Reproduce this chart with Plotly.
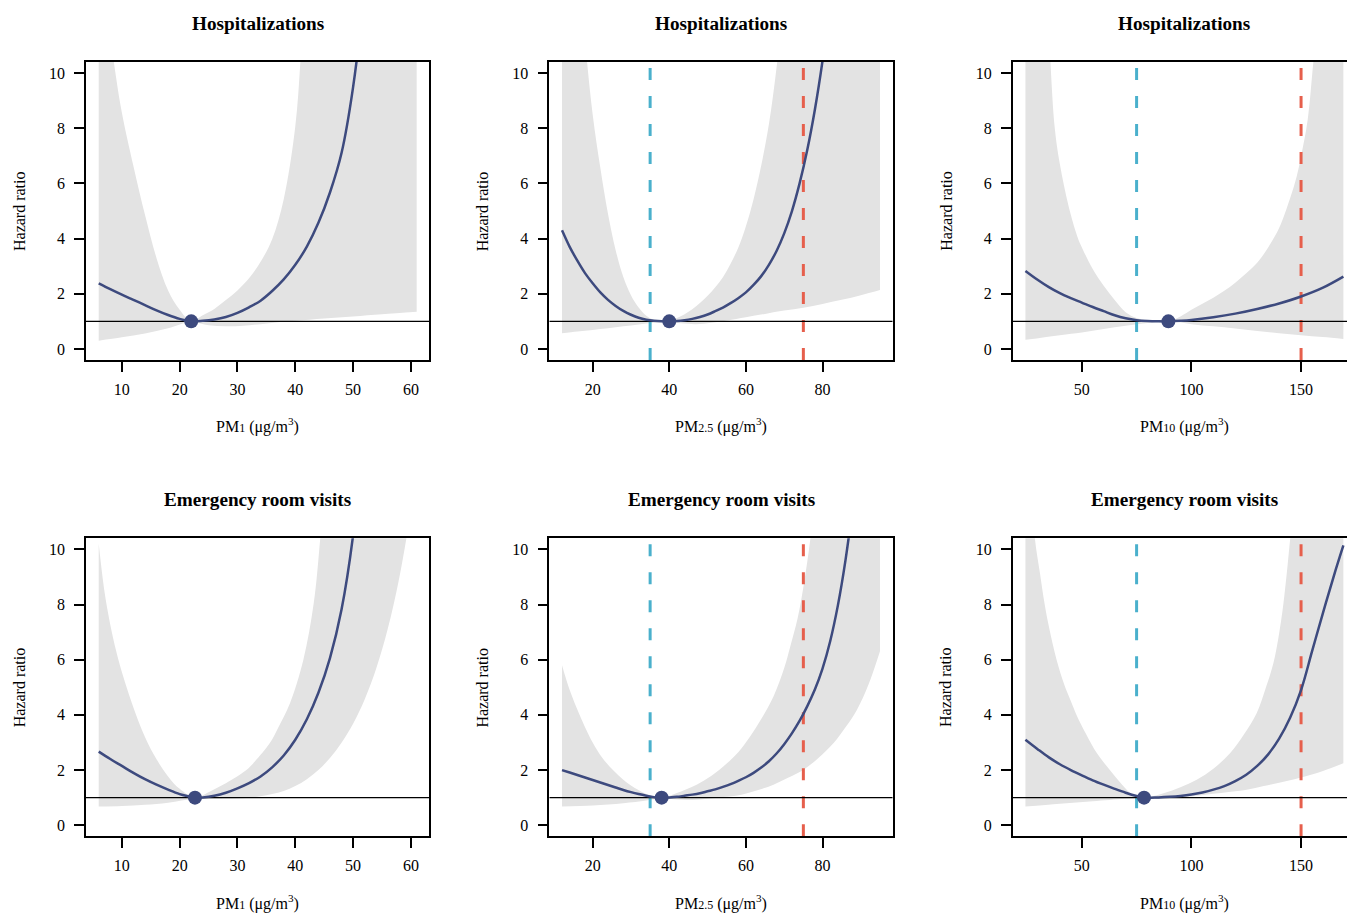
import plotly.graph_objects as go

FONT = "Liberation Serif"
NAVY = "#3D4A7E"
BAND = "#E3E3E3"
BLUE = "#4AB0CC"
RED = "#E65F4C"
W, H = 1347, 913

# ---------------- data ----------------
hr_ticks = [0, 2, 4, 6, 8, 10]
pm1_ticks = [10, 20, 30, 40, 50, 60]
pm25_ticks = [20, 40, 60, 80]
pm10_ticks = [50, 100, 150]
pm25_limits = [35, 75]
pm10_limits = [75, 150]

# Hospitalizations - PM1
hosp_pm1_x = [6, 8, 10, 12, 14, 16, 18, 20, 22, 24, 26, 28, 30, 32, 34, 36, 38, 40, 42, 44, 46, 48, 50, 52, 55]
hosp_pm1_hr = [2.38, 2.17, 1.97, 1.78, 1.59, 1.40, 1.23, 1.09, 1.0, 1.02, 1.07, 1.16, 1.31, 1.51, 1.75, 2.10, 2.52, 3.05, 3.71, 4.57, 5.67, 7.10, 9.49, 13.1, 21]
hosp_pm1_up_x = [6, 7, 8, 9, 10, 12, 14, 16, 18, 20, 22, 24, 26, 28, 30, 32, 34, 36, 38, 40, 41, 42, 44, 50, 61]
hosp_pm1_up = [16, 13.5, 11.4, 9.85, 8.57, 6.63, 4.86, 3.29, 2.12, 1.42, 1.0, 1.22, 1.45, 1.77, 2.12, 2.56, 3.16, 3.98, 5.43, 8.06, 10.8, 14.5, 26, 60, 150]
hosp_pm1_lo_x = [6, 10, 14, 18, 22, 25, 28, 31, 34, 37, 40, 45, 50, 55, 61]
hosp_pm1_lo = [0.30, 0.42, 0.56, 0.75, 0.98, 0.86, 0.82, 0.84, 0.9, 0.97, 1.02, 1.1, 1.18, 1.26, 1.35]
hosp_pm1_ref = 22

# Hospitalizations - PM2.5
hosp_pm25_x = [12, 14, 16, 18, 20, 22, 24, 26, 28, 30, 32, 34, 36, 38, 40, 42, 44, 46, 48, 50, 52, 54, 56, 58,
               60, 62, 64, 66, 68, 70, 72, 74, 76, 78, 80, 82, 84, 86]
hosp_pm25_hr = [4.3, 3.7, 3.2, 2.75, 2.38, 2.05, 1.78, 1.56, 1.38, 1.24, 1.13, 1.06, 1.02, 1.0, 1.0, 1.01, 1.04, 1.09,
                1.16, 1.25, 1.37, 1.50, 1.66, 1.84, 2.05, 2.32, 2.64, 3.05, 3.55, 4.19, 4.99, 5.99, 7.20, 8.67, 10.44,
                12.58, 15.15, 18.2]
hosp_pm25_up_x = [12, 14, 16, 18, 20, 22, 24, 26, 28, 30, 32, 34, 36, 38, 40, 42, 44, 46, 48, 50, 52, 54, 56, 58, 60, 62, 64, 66, 68, 70, 72, 75, 80, 95]
hosp_pm25_up = [24.6, 19, 14.5, 11.2, 8.5, 6.57, 4.9, 3.58, 2.61, 1.95, 1.5, 1.2, 1.05, 1.0, 1.0, 1.12, 1.26, 1.44, 1.67, 1.93, 2.24, 2.6, 3.09, 3.67, 4.45, 5.43, 6.65, 8.14, 10.2, 12.8, 16, 23, 45, 250]
hosp_pm25_lo_x = [12, 16, 20, 24, 28, 32, 36, 40, 43, 47, 51, 55, 60, 65, 70, 75, 80, 85, 90, 95]
hosp_pm25_lo = [0.57, 0.63, 0.69, 0.75, 0.82, 0.89, 0.95, 0.99, 0.93, 0.9, 0.95, 1.03, 1.15, 1.27, 1.39, 1.49, 1.63, 1.78, 1.95, 2.14]
hosp_pm25_ref = 40

# Hospitalizations - PM10
hosp_pm10_x = [24.3, 30, 35, 40, 45, 50, 55, 60, 65, 70, 75, 80, 85, 89.5, 95, 100, 110, 120, 130, 140, 150, 160, 169.3]
hosp_pm10_hr = [2.83, 2.5, 2.24, 2.02, 1.84, 1.68, 1.52, 1.37, 1.22, 1.11, 1.04, 1.01, 1.0, 1.0, 1.02, 1.05, 1.15, 1.28, 1.45, 1.65, 1.9, 2.22, 2.62]
hosp_pm10_up_x = [24.3, 28, 32, 35.7, 37.7, 40, 44, 48, 50, 55, 60, 65, 70, 75, 80, 85, 89.5, 95, 100, 105, 110, 115, 120, 125, 130, 135, 140, 145, 148, 150, 153, 156, 160, 165, 169.3]
hosp_pm10_up = [47, 28, 16.8, 10.4, 8.0, 6.7, 5.17, 4.07, 3.69, 2.9, 2.29, 1.77, 1.33, 1.12, 1.03, 1.0, 1.0, 1.18, 1.42, 1.64, 1.86, 2.11, 2.4, 2.74, 3.12, 3.68, 4.38, 5.46, 6.25, 6.98, 8.3, 10.7, 13.3, 17.6, 22.6]
hosp_pm10_lo_x = [24.3, 40, 50, 60, 70, 80, 89.5, 100, 110, 120, 130, 140, 150, 160, 169.3]
hosp_pm10_lo = [0.33, 0.5, 0.6, 0.72, 0.84, 0.94, 1.0, 0.9, 0.82, 0.74, 0.65, 0.57, 0.5, 0.43, 0.36]
hosp_pm10_ref = 89.5

# Emergency room visits - PM1
er_pm1_x = [6, 8, 10, 12, 14, 16, 18, 20, 21.5, 22.65, 24, 26, 28, 30, 32, 34, 36, 38, 40, 42, 44, 46, 48, 50, 52]
er_pm1_hr = [2.67, 2.4, 2.15, 1.9, 1.67, 1.47, 1.29, 1.13, 1.05, 1.0, 1.01, 1.07, 1.18, 1.34, 1.53, 1.77, 2.10, 2.53, 3.10, 3.84, 4.80, 6.06, 7.82, 10.51, 14.8]
er_pm1_up_x = [6, 7, 8, 9, 10, 12, 14, 16, 18, 20, 22.65, 25, 27, 29, 31.6, 33, 35.6, 37, 39.1, 41.4, 43.2, 44.3, 45, 46, 48, 50, 55, 61]
er_pm1_up = [10.2, 8.46, 7.27, 6.33, 5.55, 4.27, 3.2, 2.39, 1.77, 1.32, 1.0, 1.2, 1.41, 1.65, 2.01, 2.31, 2.98, 3.52, 4.43, 6.0, 8.06, 10.36, 12.2, 15.3, 24, 38, 90, 250]
er_pm1_lo_x = [6, 10, 14, 18, 22.65, 26, 28, 30, 32, 34, 36, 38, 40, 42, 44, 46, 48, 50, 52, 54, 56, 58, 60, 61]
er_pm1_lo = [0.68, 0.7, 0.74, 0.82, 0.96, 0.95, 0.96, 0.97, 1.0, 1.05, 1.13, 1.24, 1.42, 1.67, 2.0, 2.44, 2.99, 3.68, 4.56, 5.68, 7.12, 8.98, 11.4, 12.8]
er_pm1_ref = 22.65

# Emergency room visits - PM2.5
er_pm25_x = [12, 14, 16, 18, 20, 22, 24, 26, 28, 30, 32, 34, 36, 38, 40, 42, 44, 46, 48, 50, 52, 54, 56, 58, 60,
             62, 64, 66, 68, 70, 72, 74, 76, 78, 80, 82, 84, 86, 88, 90]
er_pm25_hr = [2.0, 1.91, 1.82, 1.73, 1.64, 1.55, 1.46, 1.37, 1.28, 1.2, 1.13, 1.07, 1.02, 1.0, 1.01, 1.03, 1.07,
              1.11, 1.16, 1.23, 1.30, 1.39, 1.49, 1.61, 1.74, 1.90, 2.09, 2.32, 2.60, 2.94, 3.33, 3.78, 4.31, 4.92,
              5.68, 6.67, 7.96, 9.61, 11.7, 14.2]
er_pm25_up_x = [12, 14, 16.6, 20, 22.5, 25.3, 28, 31, 35, 38, 42, 46.3, 50, 54.1, 58, 61.1, 64, 67.2, 70, 71.6, 73.5, 75.05, 76.8, 78, 80, 85, 95]
er_pm25_up = [5.8, 4.9, 4.0, 3.0, 2.45, 2.0, 1.65, 1.35, 1.08, 1.0, 1.17, 1.41, 1.7, 2.13, 2.65, 3.22, 3.85, 4.67, 5.7, 6.49, 7.5, 8.67, 10.36, 12, 15, 25, 80]
er_pm25_lo_x = [12, 20, 28, 34, 38, 42, 46, 50, 54, 58.5, 63, 67.2, 71, 75.05, 79, 82.9, 86, 89, 92, 95]
er_pm25_lo = [0.68, 0.72, 0.8, 0.9, 0.98, 0.93, 0.92, 0.96, 1.02, 1.1, 1.27, 1.47, 1.72, 2.01, 2.45, 2.98, 3.55, 4.19, 5.1, 6.31]
er_pm25_ref = 38

# Emergency room visits - PM10
er_pm10_x = [24.3, 30, 35, 40, 45, 50, 55, 60, 65, 70, 75, 78.4, 85, 90, 95, 100, 105, 110, 115, 120, 125, 130,
             135, 140, 145, 150, 155, 160, 165, 169.3]
er_pm10_hr = [3.1, 2.75, 2.46, 2.21, 2.0, 1.81, 1.63, 1.47, 1.32, 1.18, 1.06, 1.0, 1.01, 1.03, 1.063, 1.115, 1.19,
              1.29, 1.42, 1.60, 1.83, 2.15, 2.57, 3.14, 3.90, 4.90, 6.3, 7.7, 9.05, 10.14]
er_pm10_up_x = [24.3, 26, 28.6, 31, 33.1, 35, 38.5, 42, 45, 47.6, 52, 57, 62.8, 68, 73.5, 78.4, 87.3, 95, 102.4, 110, 117.6, 124, 129.8, 134, 137.4, 140, 142, 145, 148, 155, 162, 169.3]
er_pm10_up = [15, 13, 10.4, 9.1, 8.0, 7.2, 6.0, 5.1, 4.5, 4.0, 3.3, 2.6, 2.0, 1.5, 1.08, 1.0, 1.16, 1.38, 1.65, 2.05, 2.61, 3.3, 4.07, 5.0, 5.88, 6.95, 8.06, 10.36, 13, 22, 35, 55]
er_pm10_lo_x = [24.3, 40, 55, 70, 78.4, 87, 95, 102.4, 110, 117, 125.2, 133, 141, 149.1, 160, 169.3]
er_pm10_lo = [0.68, 0.78, 0.87, 0.96, 0.99, 0.98, 1.01, 1.07, 1.14, 1.21, 1.29, 1.42, 1.56, 1.71, 1.97, 2.25]
er_pm10_ref = 78.4

titles = ["Hospitalizations", "Emergency room visits"]
xlabels = ["PM<span style=\"font-size:12px\">1</span> (μg/m<sup>3</sup>)",
           "PM<span style=\"font-size:12px\">2.5</span> (μg/m<sup>3</sup>)",
           "PM<span style=\"font-size:12px\">10</span> (μg/m<sup>3</sup>)"]
ylabel = "Hazard ratio"

panels = [
    (0, 0, hosp_pm1_x, hosp_pm1_hr, hosp_pm1_up_x, hosp_pm1_up, hosp_pm1_lo_x, hosp_pm1_lo, hosp_pm1_ref, pm1_ticks, []),
    (0, 1, hosp_pm25_x, hosp_pm25_hr, hosp_pm25_up_x, hosp_pm25_up, hosp_pm25_lo_x, hosp_pm25_lo, hosp_pm25_ref, pm25_ticks, pm25_limits),
    (0, 2, hosp_pm10_x, hosp_pm10_hr, hosp_pm10_up_x, hosp_pm10_up, hosp_pm10_lo_x, hosp_pm10_lo, hosp_pm10_ref, pm10_ticks, pm10_limits),
    (1, 0, er_pm1_x, er_pm1_hr, er_pm1_up_x, er_pm1_up, er_pm1_lo_x, er_pm1_lo, er_pm1_ref, pm1_ticks, []),
    (1, 1, er_pm25_x, er_pm25_hr, er_pm25_up_x, er_pm25_up, er_pm25_lo_x, er_pm25_lo, er_pm25_ref, pm25_ticks, pm25_limits),
    (1, 2, er_pm10_x, er_pm10_hr, er_pm10_up_x, er_pm10_up, er_pm10_lo_x, er_pm10_lo, er_pm10_ref, pm10_ticks, pm10_limits),
]

# ---------------- layout geometry (pixels) ----------------
col_left = [86, 549.3, 1012.7]
box_w = 343.4
row_top = [62, 538.3]
box_h = 298.0
y_range = [-0.4, 10.4]

fig = go.Figure()
layout = dict(width=W, height=H, margin=dict(l=0, r=0, t=0, b=0, pad=0),
              paper_bgcolor="white", plot_bgcolor="white", showlegend=False,
              font=dict(family=FONT, size=16, color="black"))
annotations = []

for i, (r, c, cx, chr_, ux, uy, lx, ly, ref, xt, lims) in enumerate(panels):
    n = "" if i == 0 else str(i + 1)
    xa, ya = "x" + n, "y" + n
    a, b = min(ux + lx), max(ux + lx)
    ext = 0.04 * (b - a)
    x0, x1 = a - ext, b + ext
    pxu = box_w / (x1 - x0)
    left = col_left[c]
    right = min(left + box_w, W)
    xr = [x0, x0 + (right - left) / pxu]
    top = row_top[r]
    bottom = top + box_h

    ax_common = dict(showgrid=False, zeroline=False, showline=True, linecolor="black",
                     linewidth=1.6, ticks="outside", ticklen=10, tickwidth=1.6,
                     tickcolor="black", tickfont=dict(family=FONT, size=16, color="black"))
    layout["xaxis" + n] = dict(ax_common, domain=[left / W, right / W], range=xr,
                               anchor=ya, tickvals=xt, mirror=True, ticklabelstandoff=4)
    layout["yaxis" + n] = dict(ax_common, domain=[1 - bottom / H, 1 - top / H], range=y_range,
                               anchor=xa, tickvals=hr_ticks, mirror=(c < 2), ticklabelstandoff=6)

    # confidence band
    fig.add_trace(go.Scatter(x=lx, y=ly, xaxis=xa, yaxis=ya, mode="lines",
                             line=dict(width=0, shape="spline", smoothing=1.0),
                             hoverinfo="skip"))
    fig.add_trace(go.Scatter(x=ux, y=uy, xaxis=xa, yaxis=ya, mode="lines",
                             line=dict(width=0, shape="spline", smoothing=1.0),
                             fill="tonexty", fillcolor=BAND, hoverinfo="skip"))
    # guideline limits
    for k, v in enumerate(lims):
        fig.add_trace(go.Scatter(x=[v, v], y=y_range, xaxis=xa, yaxis=ya, mode="lines",
                                 line=dict(color=BLUE if k == 0 else RED, width=3,
                                           dash="12px,16px"), hoverinfo="skip"))
    # reference line HR = 1
    fig.add_trace(go.Scatter(x=[x0, x1], y=[1, 1], xaxis=xa, yaxis=ya, mode="lines",
                             line=dict(color="black", width=1.4), hoverinfo="skip"))
    # dose-response curve
    fig.add_trace(go.Scatter(x=cx, y=chr_, xaxis=xa, yaxis=ya, mode="lines",
                             line=dict(color=NAVY, width=2.5, shape="spline", smoothing=1.0)))
    # reference point
    fig.add_trace(go.Scatter(x=[ref], y=[1], xaxis=xa, yaxis=ya, mode="markers",
                             marker=dict(color=NAVY, size=14), cliponaxis=False))

    cxp = left + box_w / 2
    annotations.append(dict(text="<b>" + titles[r] + "</b>", x=cxp / W, y=1 - (top - 39) / H,
                            xref="paper", yref="paper", showarrow=False, xanchor="center",
                            yanchor="middle", font=dict(family=FONT, size=19.2, color="black")))
    annotations.append(dict(text=xlabels[c], x=cxp / W, y=1 - (bottom + 66) / H,
                            xref="paper", yref="paper", showarrow=False, xanchor="center",
                            yanchor="middle", font=dict(family=FONT, size=16, color="black")))
    annotations.append(dict(text=ylabel, x=(left - 67) / W, y=1 - (top + box_h / 2) / H,
                            xref="paper", yref="paper", showarrow=False, xanchor="center",
                            yanchor="middle", textangle=-90,
                            font=dict(family=FONT, size=16, color="black")))

layout["annotations"] = annotations
fig.update_layout(**layout)

fig.write_html("out.html", config={"displayModeBar": False},
               post_script="document.body.style.margin='0';document.body.style.overflow='hidden';")
